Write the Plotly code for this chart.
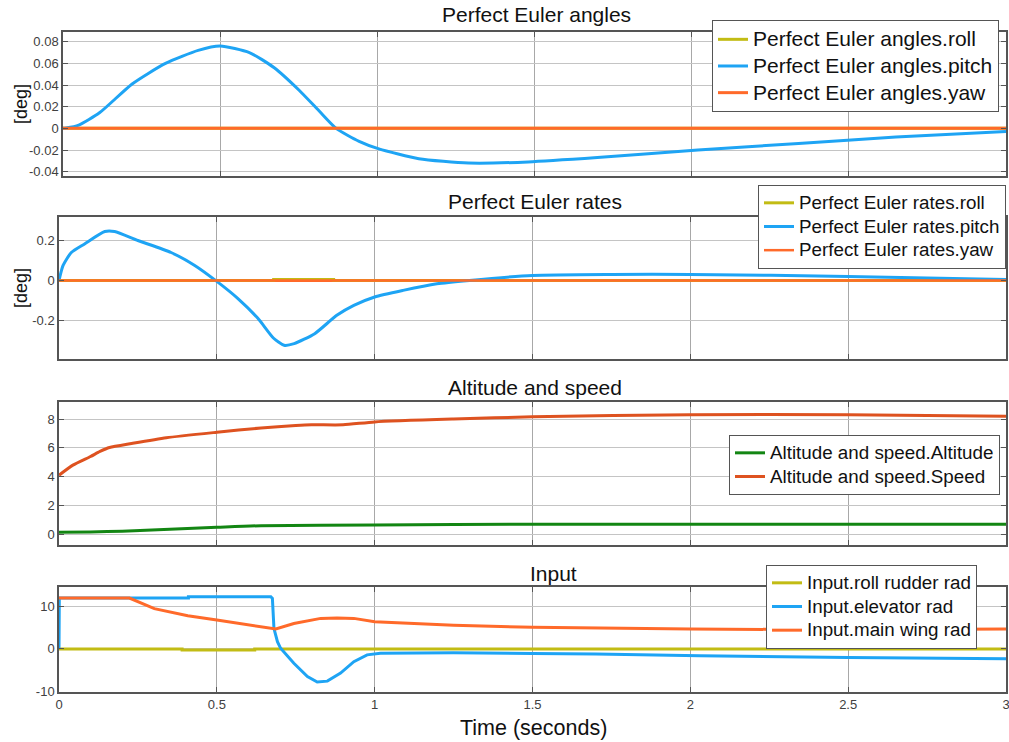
import plotly.graph_objects as go

W, H = 1009, 742

# ---------------- data ----------------
# Panel 1: Perfect Euler angles
ang_t = [0, 3]
ang_roll = [0, 0]
ang_yaw = [0, 0]
ang_pitch_t = [0, 0.01, 0.05, 0.117, 0.22, 0.326, 0.43, 0.5, 0.593, 0.672, 0.752, 0.815,
               0.869, 0.942, 1.005, 1.132, 1.29, 1.48, 1.70, 2.02, 2.34, 2.65, 3.0]
ang_pitch = [0, 0.0003, 0.003, 0.0146, 0.041, 0.06, 0.072, 0.076, 0.07, 0.056, 0.035, 0.016,
             0, -0.012, -0.019, -0.028, -0.032, -0.031, -0.027, -0.02, -0.014, -0.008, -0.003]

# Panel 2: Perfect Euler rates
rate_roll_t = [0, 0.68, 0.68, 0.87, 0.87, 3]
rate_roll = [0, 0, 0.004, 0.004, 0, 0]
rate_yaw_t = [0, 3]
rate_yaw = [0, 0]
rate_pitch_t = [0, 0.013, 0.039, 0.081, 0.145, 0.176, 0.25, 0.355, 0.43, 0.5, 0.566, 0.63, 0.68,
                0.713, 0.745, 0.81, 0.88, 0.934, 1.0, 1.09, 1.197, 1.3, 1.5, 1.75, 2.0, 2.5, 3.0]
rate_pitch = [0, 0.075, 0.14, 0.183, 0.245, 0.245, 0.2, 0.14, 0.075, -0.005, -0.09, -0.19, -0.29,
              -0.325, -0.317, -0.267, -0.175, -0.125, -0.083, -0.05, -0.017, 0, 0.025, 0.03, 0.03, 0.02, 0.005]

# Panel 3: Altitude and speed
alt_t = [0, 0.1, 0.2, 0.5, 0.64, 1.0, 1.5, 2.0, 3.0]
alt = [0.15, 0.17, 0.22, 0.49, 0.6, 0.65, 0.7, 0.7, 0.7]
spd_t = [0, 0.044, 0.1, 0.13, 0.16, 0.23, 0.34, 0.5, 0.64, 0.75, 0.8, 0.9, 1.0, 1.25, 1.5, 2.0, 2.5, 3.0]
spd = [4.1, 4.8, 5.4, 5.75, 6.02, 6.3, 6.7, 7.08, 7.38, 7.55, 7.6, 7.6, 7.8, 8.0, 8.15, 8.3, 8.3, 8.2]

# Panel 4: Input
rud_t = [0, 0.39, 0.39, 0.62, 0.62, 3]
rud = [0, 0, -0.25, -0.25, 0, 0]
elev_t = [0, 0.001, 0.41, 0.41, 0.671, 0.676, 0.681, 0.692, 0.702, 0.744, 0.787, 0.818, 0.85,
          0.892, 0.934, 0.976, 1.018, 1.25, 1.5, 1.7, 2.03, 2.3, 2.5, 3.0]
elev = [0, 12.0, 12.0, 12.3, 12.3, 11.9, 4.8, 1.7, 0.15, -3.4, -6.5, -7.8, -7.6,
        -5.7, -3.0, -1.4, -1.0, -0.9, -1.1, -1.2, -1.6, -1.9, -2.0, -2.3]
wing_t = [0, 0.223, 0.302, 0.408, 0.5, 0.618, 0.687, 0.744, 0.829, 0.881, 0.934, 1.0, 1.144,
          1.25, 1.5, 2.0, 2.5, 3.0]
wing = [12, 12, 9.5, 7.8, 6.8, 5.5, 4.7, 6.0, 7.2, 7.3, 7.2, 6.4, 6.0, 5.6, 5.1, 4.7, 4.5, 4.7]

titles = ["Perfect Euler angles", "Perfect Euler rates", "Altitude and speed", "Input"]
x_ticks = [0, 0.5, 1, 1.5, 2, 2.5, 3]
x_ticktext = ["0", "0.5", "1", "1.5", "2", "2.5", "3"]
y1_ticks = [-0.04, -0.02, 0, 0.02, 0.04, 0.06, 0.08]
y1_text = ["-0.04", "-0.02", "0", "0.02", "0.04", "0.06", "0.08"]
y2_ticks = [-0.2, 0, 0.2]
y2_text = ["-0.2", "0", "0.2"]
y3_ticks = [0, 2, 4, 6, 8]
y3_text = ["0", "2", "4", "6", "8"]
y4_ticks = [-10, 0, 10]
y4_text = ["-10", "0", "10"]

C_ROLL = "#c2bc14"
C_PITCH = "#1ea4f4"
C_YAW = "#ff6a2a"
C_ALT = "#138613"
C_SPD = "#de5220"

FONT = "Liberation Sans, Arial, sans-serif"

# ---------------- layout geometry (pixels) ----------------
panels = [  # left, right, top, bottom
    (63, 1006, 32, 176),
    (59, 1006, 217, 359),
    (59, 1006, 402, 545),
    (59, 1006, 587, 692),
]
yranges = [(-0.044, 0.089), (-0.394, 0.318), (-0.74, 9.18), (-10.16, 14.6)]
yticks = [(y1_ticks, y1_text), (y2_ticks, y2_text), (y3_ticks, y3_text), (y4_ticks, y4_text)]
leg_text_px = [21, 18.8, 18.8, 18.8]

fig = go.Figure()

def add(x, y, name, color, panel, shape="spline", width=3, show=True):
    sfx = "" if panel == 1 else str(panel)
    legend = "legend" if panel == 1 else "legend" + str(panel)
    label = '<span style="font-size:%spx">%s</span>' % (leg_text_px[panel - 1], name)
    fig.add_trace(go.Scatter(
        x=x, y=y, mode="lines", name=label, showlegend=show,
        line=dict(color=color, width=width, shape=shape, smoothing=0.6 if shape == "spline" else None),
        xaxis="x" + sfx, yaxis="y" + sfx, legend=legend))

add(ang_t, ang_roll, "Perfect Euler angles.roll", C_ROLL, 1, "linear")
add(ang_pitch_t, ang_pitch, "Perfect Euler angles.pitch", C_PITCH, 1)
add(ang_t, ang_yaw, "Perfect Euler angles.yaw", C_YAW, 1, "linear")

add(rate_yaw_t, rate_yaw, "Perfect Euler rates.yaw", C_YAW, 2, "linear", show=False)
add(rate_roll_t, rate_roll, "Perfect Euler rates.roll", C_ROLL, 2, "linear")
add(rate_pitch_t, rate_pitch, "Perfect Euler rates.pitch", C_PITCH, 2)
add(rate_yaw_t, rate_yaw, "Perfect Euler rates.yaw", C_YAW, 2, "linear", width=2.5)

add(alt_t, alt, "Altitude and speed.Altitude", C_ALT, 3)
add(spd_t, spd, "Altitude and speed.Speed", C_SPD, 3)

add(rud_t, rud, "Input.roll rudder rad", C_ROLL, 4, "linear")
add(elev_t, elev, "Input.elevator rad", C_PITCH, 4, "linear")
add(wing_t, wing, "Input.main wing rad", C_YAW, 4, "linear")

layout = dict(
    width=W, height=H,
    margin=dict(l=0, r=0, t=0, b=0, autoexpand=False),
    paper_bgcolor="white", plot_bgcolor="white",
    font=dict(family=FONT, color="#262626"),
    showlegend=True,
)

for i, (l, r, t, b) in enumerate(panels):
    sfx = "" if i == 0 else str(i + 1)
    tv, tt = yticks[i]
    layout["xaxis" + sfx] = dict(
        domain=[l / W, r / W], range=[0, 3], anchor="y" + sfx,
        tickvals=x_ticks, ticktext=x_ticktext, showticklabels=(i == 3),
        showgrid=True, gridcolor="#a8a8a8", gridwidth=1,
        showline=True, linecolor="#555555", linewidth=1.5, mirror="ticks",
        ticks="inside", ticklen=5, tickcolor="#555555", automargin=False,
        ticklabeloverflow="allow",
        tickfont=dict(size=13, color="#404040"), zeroline=False, fixedrange=True,
    )
    layout["yaxis" + sfx] = dict(
        domain=[1 - b / H, 1 - t / H], range=list(yranges[i]), anchor="x" + sfx,
        tickvals=tv, ticktext=tt, automargin=False,
        showgrid=True, gridcolor="#c4c4c4", gridwidth=1,
        showline=True, linecolor="#555555", linewidth=1.5, mirror="ticks",
        ticks="inside", ticklen=5, tickcolor="#555555",
        tickfont=dict(size=13, color="#404040"), zeroline=False, fixedrange=True,
    )

def leg(xl, yt, size):
    return dict(x=xl / W, y=1 - yt / H, xanchor="left", yanchor="top",
                bgcolor="white", bordercolor="#555555", borderwidth=1,
                font=dict(size=size, color="#111111", family=FONT),
                tracegroupgap=0)

layout["legend"] = leg(712, 20, 18.2)
layout["legend2"] = leg(758, 185, 15.9)
layout["legend3"] = leg(729, 435, 15.9)
layout["legend4"] = leg(766, 565, 15.9)

annotations = []
title_y = [15, 201, 387, 573]
title_x = [536, 535, 535, 553]
for i, ttl in enumerate(titles):
    annotations.append(dict(text=ttl, x=title_x[i] / W, y=1 - title_y[i] / H, xref="paper", yref="paper",
                            showarrow=False, xanchor="center", yanchor="middle",
                            font=dict(size=21, color="#111111", family=FONT)))
# axis titles
for i in (0, 1):
    l, r, t, b = panels[i]
    annotations.append(dict(text="[deg]", x=21 / W, y=1 - (t + b) / 2 / H, xref="paper", yref="paper",
                            showarrow=False, textangle=-90, xanchor="center", yanchor="middle",
                            font=dict(size=18, color="#111111", family=FONT)))
annotations.append(dict(text="Time (seconds)", x=533 / W, y=1 - 728 / H, xref="paper", yref="paper",
                        showarrow=False, xanchor="center", yanchor="middle",
                        font=dict(size=21.5, color="#111111", family=FONT)))
layout["annotations"] = annotations

fig.update_layout(**layout)
fig.write_html("out.html", config={"displayModeBar": False},
               post_script="document.body.style.margin='0px';document.body.style.overflow='hidden';")
